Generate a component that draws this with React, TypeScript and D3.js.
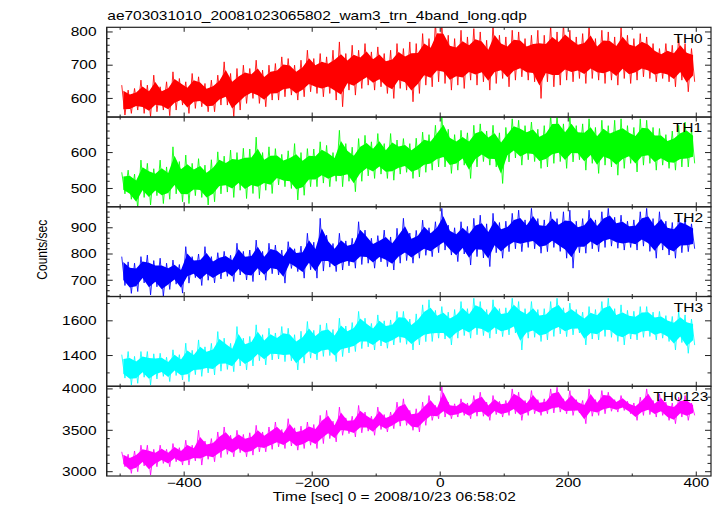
import React from "react";
import * as d3 from "d3";

// ---- data (upper / lower excursion in 10-s bins starting at -500 s) ----
const T_START = -500;
const BIN = 10;
const BIN_TIMES = d3.range(T_START, 400, BIN);

const TH0_HI = [640,625,630,655,640,670,635,650,680,660,650,675,665,645,655,670,710,675,690,700,690,715,685,700,705,725,720,700,715,745,720,735,725,745,770,735,760,745,765,740,755,735,745,765,750,770,765,795,780,830,830,790,780,805,785,810,800,775,825,790,785,805,800,780,790,805,790,820,800,825,805,785,795,820,780,805,800,785,815,790,780,795,785,765,750,765,760,785,765,750];
const TH0_LO = [550,555,565,555,545,560,565,548,565,580,555,570,575,560,560,580,580,545,565,585,600,585,575,595,595,605,610,595,605,620,615,605,615,595,575,625,610,630,640,625,635,615,600,630,625,590,615,640,635,650,645,625,640,630,655,640,650,625,645,660,635,655,665,655,650,600,650,635,640,655,650,660,645,660,655,645,655,640,660,645,655,665,660,650,660,650,635,655,620,650];

const TH1_HI = [545,551,540,579,570,555,579,560,616,575,593,570,583,565,580,602,590,607,600,612,610,643,600,616,611,595,605,625,600,611,610,630,620,600,662,625,615,639,648,630,653,625,653,635,639,625,640,657,650,676,705,665,650,662,655,676,680,660,676,655,670,694,690,675,685,665,675,705,705,680,705,675,680,694,670,690,675,690,694,675,670,694,690,670,667,650,660,676,685,665];
const TH1_LO = [485,470,445,475,454,480,458,470,485,463,458,480,475,454,463,485,490,475,495,472,486,472,495,486,510,505,500,468,481,505,505,515,505,520,505,520,491,520,535,528,540,528,523,540,545,528,532,545,551,560,560,542,551,565,528,560,575,565,560,514,574,585,565,580,575,556,560,570,575,556,574,580,551,570,542,565,560,537,556,570,546,565,570,551,565,556,551,560,560,570];

const TH2_HI = [790,770,765,790,796,775,784,765,777,760,828,790,800,828,790,805,810,795,841,810,815,853,810,841,834,815,847,820,830,879,845,936,872,840,879,850,860,923,891,860,870,891,865,898,936,880,890,929,900,923,974,910,900,923,905,936,948,915,955,920,925,955,967,930,974,935,930,961,935,961,967,925,935,967,930,961,974,940,948,925,930,961,974,935,961,925,920,948,936,915];
const TH2_LO = [680,650,657,690,644,675,638,665,685,651,689,710,680,700,690,705,715,695,720,701,695,720,700,725,720,689,745,733,708,740,708,735,750,733,739,755,746,760,765,746,770,752,739,765,775,765,784,795,790,805,815,796,771,800,758,790,785,752,805,784,809,820,809,825,820,803,809,825,810,784,746,805,803,820,809,825,830,822,815,825,815,830,810,784,815,796,784,805,809,820];

const TH3_HI = [1405,1423,1395,1423,1423,1410,1413,1390,1433,1405,1471,1430,1490,1450,1470,1538,1500,1470,1567,1500,1510,1577,1520,1557,1530,1567,1557,1520,1540,1596,1545,1577,1586,1550,1615,1570,1590,1654,1615,1585,1634,1600,1605,1654,1654,1610,1640,1692,1721,1660,1682,1650,1665,1711,1670,1730,1711,1665,1721,1670,1675,1730,1711,1670,1711,1665,1670,1711,1730,1675,1702,1665,1650,1682,1665,1711,1730,1670,1692,1660,1655,1682,1682,1650,1654,1630,1625,1654,1634,1610];
const TH3_LO = [1270,1230,1240,1275,1230,1265,1280,1250,1285,1259,1250,1290,1280,1300,1288,1310,1320,1307,1340,1317,1340,1370,1346,1375,1380,1365,1370,1317,1356,1385,1375,1395,1400,1365,1394,1415,1423,1440,1450,1432,1455,1442,1461,1475,1465,1432,1461,1480,1481,1500,1495,1461,1500,1515,1500,1520,1515,1500,1525,1509,1519,1530,1432,1500,1505,1481,1490,1510,1525,1509,1519,1530,1461,1495,1490,1510,1505,1481,1461,1495,1490,1505,1510,1490,1500,1481,1432,1475,1413,1460];

const TH0123_HI = [3240,3210,3250,3320,3320,3270,3320,3270,3340,3290,3380,3320,3500,3370,3400,3480,3540,3440,3500,3450,3470,3560,3480,3540,3600,3510,3640,3530,3550,3600,3570,3680,3740,3610,3780,3650,3670,3800,3720,3670,3780,3690,3720,3840,3880,3740,3760,3840,3920,3800,4030,3840,3820,3880,3830,3920,3960,3840,3920,3850,3860,4000,3960,3860,3980,3870,3880,4000,4020,3880,3980,3870,3860,4000,3870,3980,3960,3870,3920,3850,3830,3900,4000,3860,3940,3840,3830,3900,3920,3830];
const TH0123_LO = [3060,2980,3000,3070,2960,3060,3100,3060,3120,3080,3080,3130,3080,3150,3120,3170,3210,3180,3230,3180,3200,3240,3240,3270,3300,3280,3310,3260,3280,3320,3280,3340,3400,3360,3440,3460,3420,3470,3490,3440,3510,3480,3520,3550,3560,3500,3480,3560,3620,3640,3660,3640,3660,3680,3640,3670,3670,3620,3690,3660,3680,3700,3620,3680,3700,3680,3700,3710,3720,3700,3680,3710,3580,3670,3680,3700,3730,3720,3740,3700,3620,3680,3690,3660,3680,3620,3580,3660,3620,3680];

const PANEL_NAMES = ["TH0", "TH1", "TH2", "TH3", "TH0123"];
const PANEL_COLORS = ["#ff0000", "#00ff00", "#0000ff", "#00ffff", "#ff00ff"];
const PANEL_DOMAINS: [number, number][] = [[544, 814], [449, 699], [638, 980], [1223, 1740], [2948, 4032]];
const PANEL_MAJOR_TICKS = [[600, 700, 800], [500, 600], [700, 800, 900], [1400, 1600], [3000, 3500, 4000]];
const PANEL_MINOR_STEP = [20, 20, 20, 100, 100];
const PANEL_HI = [TH0_HI, TH1_HI, TH2_HI, TH3_HI, TH0123_HI];
const PANEL_LO = [TH0_LO, TH1_LO, TH2_LO, TH3_LO, TH0123_LO];

const X_LABEL_TICKS = [-400, -200, 0, 200, 400];
const X_MINOR_TICKS = [-500, -300, -100, 100, 300];

const TITLE = "ae703031010_20081023065802_wam3_trn_4band_long.qdp";
const X_TITLE = "Time [sec] 0 = 2008/10/23 06:58:02";
const Y_TITLE = "Counts/sec";

// ---- layout ----
const W = 723, H = 516;
const LEFT = 106.7, RIGHT = 711;
const TOP = 27.3, PANEL_H = 89.74;
const SX = 1.29; // horizontal stretch of the reference's type
const FONT = "'Liberation Sans', Arial, Helvetica, sans-serif";
const FS = 12;
const LABEL_END = [702.7, 702, 703, 703, 708.3];
const CORE = 0.62;

const fmt = (v: number) => (v < 0 ? "\u2212" + Math.abs(v) : String(v));

function SText({ x, y, anchor = "start", children }: { x: number; y: number; anchor?: string; children: React.ReactNode }) {
  return (
    <text transform={`translate(${x},${y}) scale(${SX},1)`} textAnchor={anchor} fontFamily={FONT} fontSize={FS} fill="#000">
      {children}
    </text>
  );
}

export default function App() {
  const x = d3.scaleLinear().domain([-521, 423]).range([LEFT, RIGHT]);

  const panels = PANEL_NAMES.map((name, p) => {
    const top = TOP + p * PANEL_H;
    const bottom = top + PANEL_H;
    const y = d3.scaleLinear().domain(PANEL_DOMAINS[p]).range([bottom, top]);
    const hi = PANEL_HI[p];
    const lo = PANEL_LO[p];
    const bins = BIN_TIMES.map((t, i) => {
      const m = (hi[i] + lo[i]) / 2;
      const h = ((hi[i] - lo[i]) / 2) * CORE;
      return { t, hi: hi[i], lo: lo[i], c1: m + h, c0: m - h };
    });
    const core = d3.area<any>()
      .x((d) => x(d.t + BIN / 2))
      .y0((d) => y(d.c0))
      .y1((d) => y(d.c1))(bins) || "";
    const zig: [number, number][] = [];
    bins.forEach((d) => {
      zig.push([x(d.t + BIN * 0.25), y(d.hi)]);
      zig.push([x(d.t + BIN * 0.75), y(d.lo)]);
    });
    const line = d3.line()(zig) || "";
    const [d0, d1] = PANEL_DOMAINS[p];
    const minor = d3.range(Math.ceil(d0 / PANEL_MINOR_STEP[p]) * PANEL_MINOR_STEP[p], d1, PANEL_MINOR_STEP[p])
      .filter((v) => !PANEL_MAJOR_TICKS[p].includes(v));
    return { name, p, top, bottom, y, core, line, minor };
  });

  const bottomY = TOP + 5 * PANEL_H;

  return (
    <svg width={W} height={H} style={{ position: "absolute", left: 0, top: 0, background: "#fff" }}>
      <rect x={0} y={0} width={W} height={H} fill="#fff" />
      <defs>
        {panels.map((pn) => (
          <clipPath id={`clip${pn.p}`} key={pn.p}>
            <rect x={LEFT} y={pn.top} width={RIGHT - LEFT} height={PANEL_H} />
          </clipPath>
        ))}
      </defs>
      {panels.map((pn) => (
        <g key={pn.name}>
          <g clipPath={`url(#clip${pn.p})`}>
            <path d={pn.core} fill={PANEL_COLORS[pn.p]} stroke="none" />
            <path d={pn.line} fill="none" stroke={PANEL_COLORS[pn.p]} strokeOpacity={0.85} strokeWidth={1} />
          </g>
          {PANEL_MAJOR_TICKS[pn.p].map((v) => (
            <g key={"M" + v}>
              <line x1={LEFT} x2={LEFT + 6} y1={pn.y(v)} y2={pn.y(v)} stroke="#222" strokeWidth={1} />
              <line x1={RIGHT - 6} x2={RIGHT} y1={pn.y(v)} y2={pn.y(v)} stroke="#222" strokeWidth={1} />
              <SText x={96.5} y={pn.y(v) + 4.3} anchor="end">{fmt(v)}</SText>
            </g>
          ))}
          {pn.minor.map((v) => (
            <g key={"m" + v}>
              <line x1={LEFT} x2={LEFT + 3} y1={pn.y(v)} y2={pn.y(v)} stroke="#222" strokeWidth={1} />
              <line x1={RIGHT - 3.5} x2={RIGHT} y1={pn.y(v)} y2={pn.y(v)} stroke="#222" strokeWidth={1} />
            </g>
          ))}
          {X_LABEL_TICKS.map((t) => (
            <g key={"xt" + t}>
              <line x1={x(t)} x2={x(t)} y1={pn.top} y2={pn.top + 4.5} stroke="#222" strokeWidth={1} />
              <line x1={x(t)} x2={x(t)} y1={pn.bottom - 4.5} y2={pn.bottom} stroke="#222" strokeWidth={1} />
            </g>
          ))}
          {X_MINOR_TICKS.map((t) => (
            <g key={"xm" + t}>
              <line x1={x(t)} x2={x(t)} y1={pn.top} y2={pn.top + 2.5} stroke="#222" strokeWidth={1} />
              <line x1={x(t)} x2={x(t)} y1={pn.bottom - 2.5} y2={pn.bottom} stroke="#222" strokeWidth={1} />
            </g>
          ))}
          <rect x={LEFT} y={pn.top} width={RIGHT - LEFT} height={PANEL_H} fill="none" stroke="#222" strokeWidth={1.2} />
          <SText x={LABEL_END[pn.p]} y={pn.top + 15.2} anchor="end">{pn.name}</SText>
        </g>
      ))}
      {X_LABEL_TICKS.map((t) => (
        <SText key={"xl" + t} x={x(t)} y={487.3} anchor="middle">{fmt(t)}</SText>
      ))}
      <SText x={107.3} y={20.3}>{TITLE}</SText>
      <SText x={272.7} y={501.3}>{X_TITLE}</SText>
      <text
        transform={`translate(46.5,249.7) scale(${SX},1) rotate(-90)`}
        textAnchor="middle"
        fontFamily={FONT}
        fontSize={FS}
        fill="#000"
      >
        {Y_TITLE}
      </text>
      <line x1={LEFT} x2={LEFT} y1={TOP} y2={bottomY} stroke="#222" strokeWidth={1.2} />
    </svg>
  );
}
